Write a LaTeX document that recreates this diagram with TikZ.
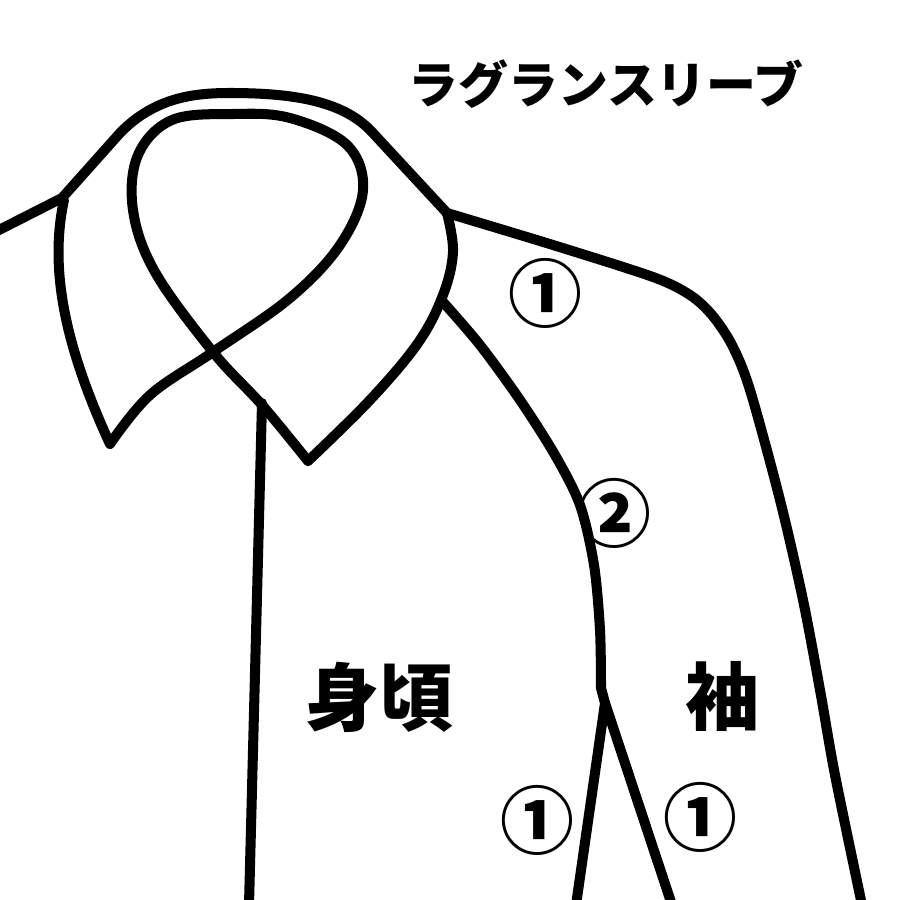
\documentclass[tikz,border=0pt]{standalone}
\usepackage{fontspec}
\newfontfamily\jp{Noto Sans CJK JP}
\begin{document}
\begin{tikzpicture}[x=0.01cm,y=-0.01cm,
  seam/.style={line width=2.85pt,line join=round,line cap=round},
  lbl/.style={font=\jp\bfseries\fontsize{21pt}{23pt}\selectfont,inner sep=0pt},
  num/.style={font=\jp\bfseries\fontsize{21pt}{23pt}\selectfont,inner sep=0pt}]
\useasboundingbox (0,0) rectangle (900,900);
% left shoulder and outer collar
\draw[seam] (-5,232) -- (62,198) -- (120,133)
  .. controls (155,97) and (195,93) .. (230,93)
  .. controls (300,93) and (345,103) .. (372,132) -- (447,213);
% left flap outer edge
\draw[seam] (64,200) .. controls (50,265) and (62,340) .. (110,444);
% inner neck loop
\draw[seam] plot[smooth,tension=0.6] coordinates {(110,444) (150,395) (213,352) (290,298) (340,245) (363,190) (347,145) (290,118) (233,114) (172,120) (138,155) (133,210) (155,272) (213,352) (262,405) (308,461)};
% right flap outer edge
\draw[seam] plot[smooth,tension=0.6] coordinates {(308,461) (370,400) (418,343) (443,295) (453,252) (447,213)};
% centre front
\draw[seam] (262,403) -- (249,905);
% sleeve outer line
\draw[seam] plot[smooth,tension=0.5] coordinates {(447,213) (553,245) (653,277) (690,295) (712,315) (732,345) (750,390) (780,500) (803,600) (820,690) (835,775) (862,905)};
% raglan seam
\draw[seam] plot[smooth,tension=0.5] coordinates {(443,302) (480,345) (520,400) (555,455) (580,505) (594,565) (600,630) (601,688)} -- (605,703);
\draw[seam] (605,703) -- (576,905);
\draw[seam] (605,703) -- (672,905);
% labels
\node[font=\jp\bfseries\fontsize{14.2pt}{16pt}\selectfont,inner sep=0pt] (title) at (606,84) {ラグランスリーブ};
\node[lbl] (body) at (379,697) {身頃};
\node[lbl] (sleeve) at (722,696) {袖};
\node[num] (n1) at (545,293) {①};
\node[num] (n2) at (614,513) {②};
\node[num] (n3) at (537,820) {①};
\node[num] (n4) at (700,817) {①};
\end{tikzpicture}
\end{document}
